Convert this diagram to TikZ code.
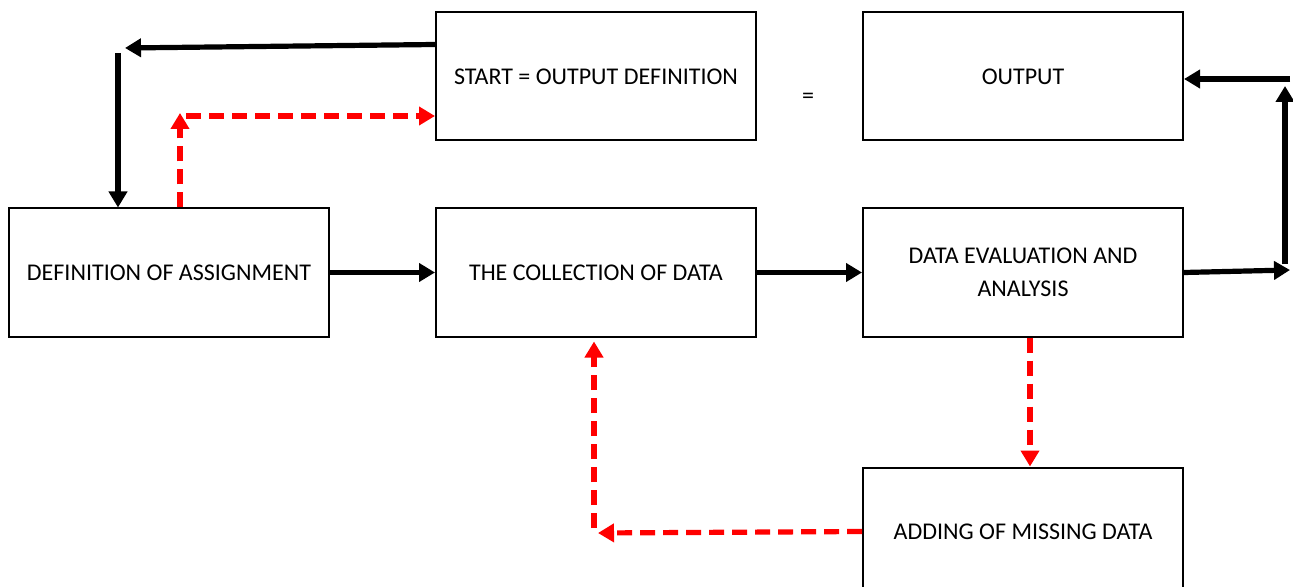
\documentclass[tikz,border=0pt]{standalone}
\usepackage{fontspec}
\setmainfont{Carlito}
\usepackage{xcolor}
\usepackage{tikz}
\usetikzlibrary{positioning, arrows.meta}
\definecolor{loopred}{RGB}{255,0,0}
\tikzset{
  box/.style   ={draw, line width=1pt, align=center, minimum width=160pt,
                 minimum height=64pt, inner sep=3pt, font=\fontsize{12}{16.5}\selectfont},
  flow/.style  ={-{Triangle[length=8pt, width=9pt]}, line width=2.6pt},
  back/.style  ={-{Triangle[length=8pt, width=9pt]}, line width=2.6pt, loopred,
                 dash pattern=on 7.5pt off 4pt},
  lbl/.style   ={font=\fontsize{12}{14}\selectfont},
}

\begin{document}
\begin{tikzpicture}[x=0.5pt, y=-0.5pt, node distance=33pt and 52.5pt]
  \useasboundingbox (0,0) rectangle (1293,587);
  % boxes
  \node[box] (DEF) at (169,272.5) {DEFINITION OF ASSIGNMENT};
  \node[box, right=of DEF] (COL) {THE COLLECTION OF DATA};
  \node[box, right=of COL] (EVAL) {DATA EVALUATION AND\\ANALYSIS};
  \node[box, above=of COL] (START) {START = OUTPUT DEFINITION};
  \node[box, above=of EVAL] (OUT) {OUTPUT};
  \node[box, below=64.5pt of EVAL] (ADD) {ADDING OF MISSING DATA};
  \node[lbl] (EQ) at (808,98) {=};
  % corner points of the loops
  \coordinate (tl) at (125,48);
  \coordinate (tv) at (118,53);
  \coordinate (rv) at (180,113);
  \coordinate (rh) at (186,116);
  \coordinate (er) at (1290,270);
  \coordinate (ev) at (1285,264);
  \coordinate (eu) at (1285,86);
  \coordinate (eo) at (1290,79);
  \coordinate (al) at (598,533);
  \coordinate (av) at (594,528);
  % main flow
  \draw[flow] ([yshift=-16.5pt]START.north west) -- (tl);
  \draw[flow] (tv) -- (tv |- DEF.north);
  \draw[flow] (DEF) -- (COL);
  \draw[flow] (COL) -- (EVAL);
  \draw[flow] (EVAL.east) -- (er);
  \draw[flow] (ev) -- (eu);
  \draw[flow] (eo) -- (eo -| OUT.east);
  % feedback
  \draw[back] (rv |- DEF.north) -- (rv);
  \draw[back] (rh) -- (rh -| START.west);
  \draw[back] ([xshift=3.5pt]EVAL.south) -- ([xshift=3.5pt]ADD.north);
  \draw[back] (ADD.west) -- (al);
  \draw[back] (av) -- ([yshift=-2pt]av |- COL.south);
\end{tikzpicture}
\end{document}
